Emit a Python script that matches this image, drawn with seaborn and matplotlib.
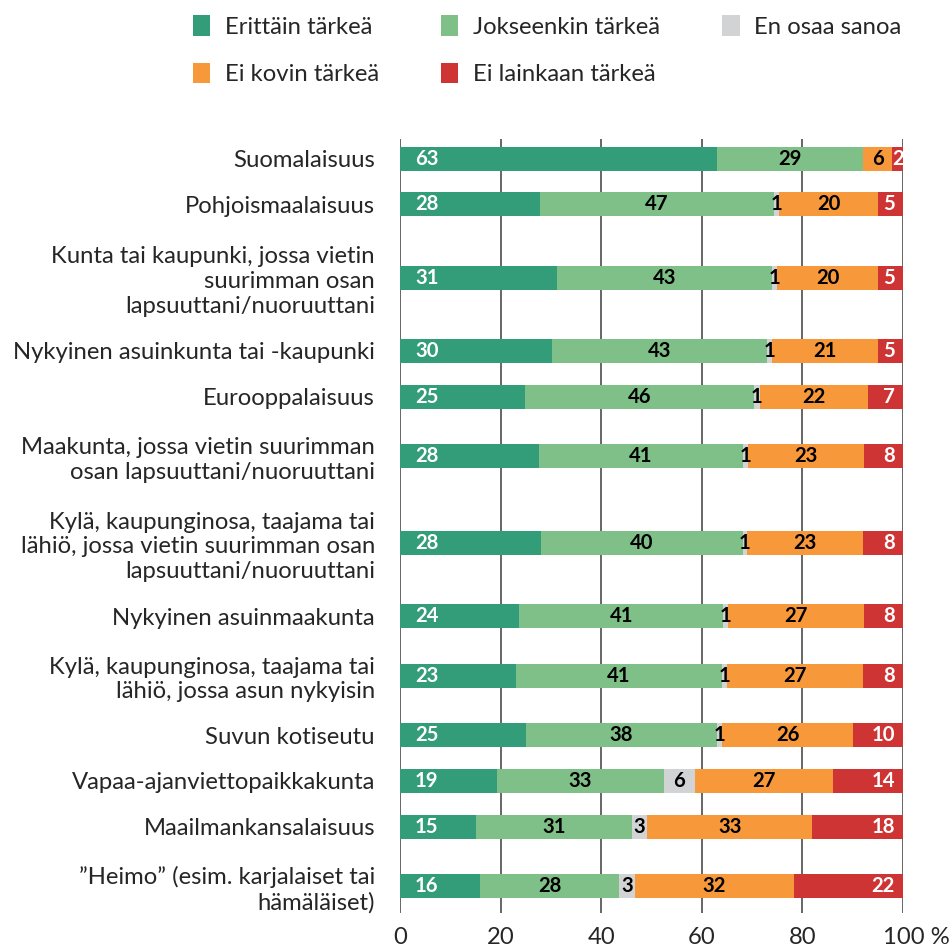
import matplotlib
matplotlib.use("Agg")
import matplotlib.pyplot as plt
import matplotlib.transforms as mtransforms
from matplotlib.patches import Patch
import numpy as np
import pandas as pd
import seaborn as sns

# categories, top to bottom
labels = [
    "Suomalaisuus",
    "Pohjoismaalaisuus",
    "Kunta tai kaupunki, jossa vietin\nsuurimman osan\nlapsuuttani/nuoruuttani",
    "Nykyinen asuinkunta tai -kaupunki",
    "Eurooppalaisuus",
    "Maakunta, jossa vietin suurimman\nosan lapsuuttani/nuoruuttani",
    "Kylä, kaupunginosa, taajama tai\nlähiö, jossa vietin suurimman osan\nlapsuuttani/nuoruuttani",
    "Nykyinen asuinmaakunta",
    "Kylä, kaupunginosa, taajama tai\nlähiö, jossa asun nykyisin",
    "Suvun kotiseutu",
    "Vapaa-ajanviettopaikkakunta",
    "Maailmankansalaisuus",
    "\u201dHeimo\u201d (esim. karjalaiset tai\nhämäläiset)",
]

# shares in percent
erittain = [63.1, 27.8, 31.3, 30.2, 24.8, 27.6, 28.0, 23.7, 23.0, 25.0, 19.3, 15.1, 16.0]
jokseenkin = [28.9, 46.6, 42.6, 42.7, 45.6, 40.6, 40.1, 40.6, 41.1, 38.1, 33.1, 31.0, 27.6]
en_osaa = [0.0, 1.0, 1.1, 1.0, 1.1, 1.0, 0.9, 1.0, 0.9, 1.0, 6.3, 3.0, 3.1]
ei_kovin = [5.9, 19.7, 20.0, 21.1, 21.6, 23.0, 23.0, 26.9, 27.0, 25.9, 27.4, 32.9, 31.6]
ei_lainkaan = [2.1, 4.9, 5.0, 5.0, 6.9, 7.8, 8.0, 7.8, 8.0, 10.0, 13.9, 18.0, 21.7]

series_names = ["Erittäin tärkeä", "Jokseenkin tärkeä", "En osaa sanoa",
                "Ei kovin tärkeä", "Ei lainkaan tärkeä"]
colors = ["#339c78", "#7ec087", "#d2d3d5", "#f7983a", "#cf3434"]
text_colors = ["white", "black", "black", "black", "white"]

xticks = [0, 20, 40, 60, 80, 100]
xtick_labels = ["0", "20", "40", "60", "80", "100 %"]

sns.set_theme(style="white")
plt.rcParams["font.family"] = ["Lato", "DejaVu Sans"]
FS = 17.2

# row heights grow with the number of label lines
n_lines = np.array([s.count("\n") + 1 for s in labels])
row_h = 1 + 0.6 * (n_lines - 1)
edges = np.concatenate([[0], np.cumsum(row_h)])
centers = edges[:-1] + row_h / 2

values = np.array([erittain, jokseenkin, en_osaa, ei_kovin, ei_lainkaan])
cum = np.cumsum(values, axis=0)

fig = plt.figure(figsize=(9.53, 9.48), dpi=100)
ax = fig.add_axes([400 / 953, 1 - 913 / 948, 503 / 953, 774 / 948])

# stacked bars: draw cumulative totals from the back to the front
for i in range(len(series_names) - 1, -1, -1):
    df = pd.DataFrame({"value": cum[i], "pos": centers})
    sns.barplot(data=df, x="value", y="pos", orient="h", native_scale=True,
                width=0.525, color=colors[i], saturation=1, errorbar=None,
                linewidth=0, ax=ax)

# value labels
last_i = len(series_names) - 1
for i in range(len(series_names)):
    for j in range(len(labels)):
        v = values[i, j]
        if v <= 0:
            continue
        txt = str(int(round(v)))
        if i == 0:
            x, ha = 3.0, "left"
        elif i == last_i and v >= 3:
            x, ha = 98.4, "right"
        else:
            x, ha = cum[i, j] - v / 2, "center"
        ax.text(x, centers[j], txt, ha=ha, va="center", fontsize=14.6,
                fontweight="bold", color=text_colors[i])

ax.set_xlim(0, 100)
ax.set_ylim(centers[-1] + 0.59, centers[0] - 0.43)
ax.set_xticks(xticks)
ax.set_xticklabels(xtick_labels, fontsize=FS)
ax.set_yticks(centers)
ax.set_yticklabels(labels, fontsize=FS)
for lbl in ax.get_yticklabels():
    lbl.set_linespacing(1.22)
ax.tick_params(axis="y", length=0, pad=18)
ax.tick_params(axis="x", length=0, pad=10)
# the "100" sits on its tick, the % sign hangs over to the right
last = ax.get_xticklabels()[-1]
last.set_transform(last.get_transform() +
                   mtransforms.ScaledTranslation(13 / 100, 0, fig.dpi_scale_trans))

ax.set_xlabel("")
ax.set_ylabel("")
ax.xaxis.grid(True, color="#4d4d4d", linewidth=1.2)
ax.yaxis.grid(False)
ax.set_axisbelow(True)
for sp in ax.spines.values():
    sp.set_visible(False)

# legend filled column-wise, so order the handles to read row by row
order = [0, 3, 1, 4, 2]
handles = [Patch(facecolor=colors[k], edgecolor="none") for k in order]
fig.legend(handles, [series_names[k] for k in order], ncol=3,
           loc="upper left", bbox_to_anchor=(193 / 953, 1 - 15 / 948),
           frameon=False, fontsize=FS, borderpad=0, borderaxespad=0,
           handlelength=0.72, handleheight=0.95, handletextpad=0.62,
           columnspacing=2.6, labelspacing=1.05)

fig.savefig("out.png", dpi=100)
